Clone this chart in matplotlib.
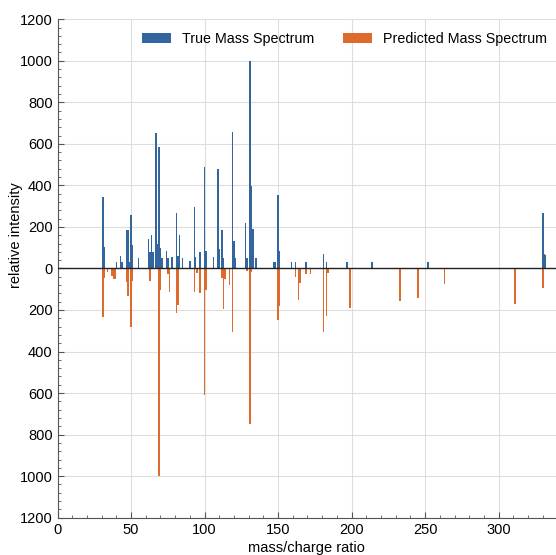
import numpy as np
import matplotlib
matplotlib.use("Agg")
import matplotlib.pyplot as plt
from matplotlib.ticker import MultipleLocator, FuncFormatter

plt.rcParams['font.family'] = ['Liberation Sans', 'DejaVu Sans']

# true spectrum (m/z, intensity)
true_mz = [31, 32, 40, 43, 44, 47, 48, 49, 50, 51, 55, 62, 63, 64, 65, 67, 68,
           69, 70, 71, 74, 75, 78, 81, 82, 83, 85, 90, 93, 94, 97, 100, 101,
           106, 109, 110, 112, 113, 119, 120, 121, 128, 129, 131, 132, 133,
           135, 147, 148, 150, 151, 159, 162, 169, 181, 183, 197, 214, 252,
           330, 331, 332]
true_int = [345, 104, 32, 58, 32, 187, 184, 32, 259, 111, 48, 140, 80, 160, 80,
            650, 116, 583, 98, 52, 85, 50, 55, 265, 60, 160, 50, 35, 297, 55,
            80, 490, 85, 55, 478, 95, 185, 50, 658, 130, 50, 217, 50, 1000,
            398, 190, 50, 30, 30, 354, 85, 30, 30, 30, 69, 30, 30, 30, 30,
            267, 69, 65]

# predicted spectrum (m/z, intensity), drawn downwards
pred_mz = [31, 32, 34, 37, 38, 39, 47, 48, 50, 51, 63, 69, 70, 75, 76, 81, 82,
           93, 95, 97, 100, 101, 112, 113, 114, 117, 119, 129, 131, 132, 150,
           151, 162, 164, 165, 169, 172, 181, 183, 184, 199, 233, 245, 263,
           311, 330]
pred_int = [232, 44, 17, 34, 50, 52, 63, 131, 284, 60, 58, 1000, 106, 26, 114,
            214, 174, 114, 21, 117, 610, 106, 46, 193, 50, 82, 305, 14, 748,
            16, 249, 180, 40, 152, 72, 27, 28, 308, 231, 20, 188, 156, 143, 75,
            169, 94]

blue = '#33659f'
orange = '#de6a2c'

fig = plt.figure(figsize=(5.56, 5.55), dpi=100)
ax = fig.add_axes([57.5 / 556, 0.0672, (556 - 57.5) / 556, 0.8982])

ax.bar(true_mz, true_int, width=1.0, color=blue, lw=0,
       label='True Mass Spectrum', zorder=3)
ax.bar(pred_mz, -np.array(pred_int), width=1.0, color=orange, lw=0,
       label='Predicted Mass Spectrum', zorder=3)
ax.axhline(0, color='#222222', lw=1.0, zorder=4)

ax.set_xlim(0, 339)
ax.set_ylim(-1200, 1200)
ax.xaxis.set_major_locator(MultipleLocator(50))
ax.xaxis.set_minor_locator(MultipleLocator(10))
ax.yaxis.set_major_locator(MultipleLocator(200))
ax.yaxis.set_minor_locator(MultipleLocator(40))
ax.yaxis.set_major_formatter(FuncFormatter(lambda v, p: '%d' % abs(v)))
ax.tick_params(which='both', direction='in', labelsize=10.5, color='#555555')
ax.tick_params(which='major', length=4)
ax.tick_params(which='minor', length=2)
ax.grid(True, which='major', color='#dddddd', lw=0.8, zorder=0)
for s in ['top', 'right']:
    ax.spines[s].set_visible(False)
for s in ['left', 'bottom']:
    ax.spines[s].set_color('#555555')

ax.set_xlabel('mass/charge ratio', fontsize=10.5, labelpad=3)
ax.set_ylabel('relative intensity', fontsize=10.5)
ax.yaxis.set_label_coords(-0.07, 0.567)
ax.legend(loc='upper right', ncol=2, frameon=False, fontsize=10.3,
          bbox_to_anchor=(1.008, 1.0))

fig.savefig('out.png', dpi=100)
